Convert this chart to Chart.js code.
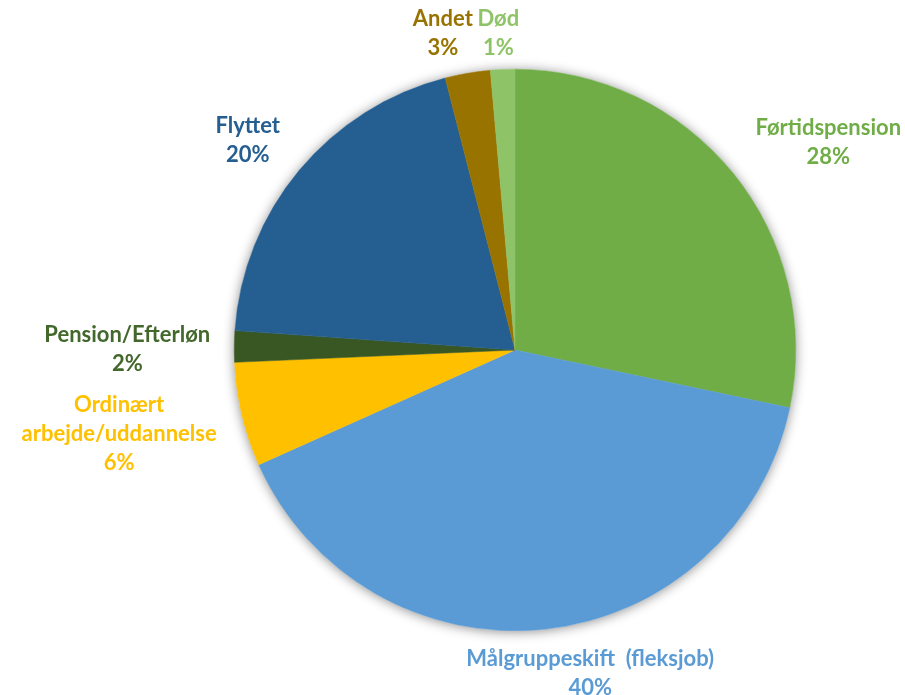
<!DOCTYPE html>
<html>
<head>
<meta charset="utf-8">
<script src="https://cdn.jsdelivr.net/npm/chart.js@4"></script>
<style>
html,body{margin:0;padding:0;background:#fff;}
#wrap{width:905px;height:695px;position:relative;}
</style>
</head>
<body>
<div id="wrap"><canvas id="c" width="905" height="695"></canvas></div>
<script>
const categories = ["Førtidspension", "Målgruppeskift  (fleksjob)", "Ordinært arbejde/uddannelse", "Pension/Efterløn", "Flyttet", "Andet", "Død"];
const labelLines = [["Førtidspension"], ["Målgruppeskift  (fleksjob)"], ["Ordinært", "arbejde/uddannelse"], ["Pension/Efterløn"], ["Flyttet"], ["Andet"], ["Død"]];
const shares = [28.3, 40.0, 6.0, 1.8, 19.9, 2.6, 1.4];
const percentLabels = ["28%", "40%", "6%", "2%", "20%", "3%", "1%"];
const sliceColors = ["#70AD47", "#5B9BD5", "#FFC000", "#385723", "#255E91", "#997300", "#8FC368"];
const labelColors = ["#70AD47", "#5B9BD5", "#FFC000", "#43682B", "#255E91", "#997300", "#8FC368"];
const labelNudges = [[31,-6],[31,5],[-18,7],[-14,3],[-19,-5],[-18,-1],[-3,3]];

const FONT = "bold 22px Lato";
const LINE_H = 29;

const shadowPlugin = {
  id: 'pieShadow',
  beforeDatasetsDraw(chart) {
    const arc = chart.getDatasetMeta(0).data[0];
    if (!arc) return;
    const ctx = chart.ctx;
    ctx.save();
    ctx.beginPath();
    ctx.arc(arc.x, arc.y, arc.outerRadius, 0, Math.PI * 2);
    ctx.fillStyle = '#fff';
    ctx.shadowColor = 'rgba(0,0,0,0.45)';
    ctx.shadowBlur = 12;
    ctx.shadowOffsetX = 0;
    ctx.shadowOffsetY = 1;
    ctx.fill();
    ctx.restore();
  }
};

const labelPlugin = {
  id: 'outLabels',
  afterDatasetsDraw(chart) {
    const ctx = chart.ctx;
    const meta = chart.getDatasetMeta(0);
    ctx.save();
    ctx.font = FONT;
    ctx.textAlign = 'center';
    ctx.textBaseline = 'middle';
    meta.data.forEach((arc, i) => {
      const mid = (arc.startAngle + arc.endAngle) / 2;
      const dx = Math.cos(mid), dy = Math.sin(mid);
      const lines = labelLines[i].concat([percentLabels[i]]);
      let w = 0;
      lines.forEach(l => { w = Math.max(w, ctx.measureText(l).width); });
      const h = lines.length * LINE_H;
      const r = arc.outerRadius + 10;
      const cx = arc.x + dx * r + dx * w / 2 + labelNudges[i][0];
      const cy = arc.y + dy * r + dy * h / 2 + labelNudges[i][1];
      ctx.fillStyle = labelColors[i];
      lines.forEach((l, k) => {
        ctx.fillText(l, cx, cy - h / 2 + LINE_H / 2 + k * LINE_H);
      });
    });
    ctx.restore();
  }
};

new Chart(document.getElementById('c'), {
  type: 'pie',
  data: {
    labels: categories,
    datasets: [{
      data: shares,
      backgroundColor: sliceColors,
      borderColor: sliceColors,
      borderWidth: 0.5
    }]
  },
  options: {
    responsive: false,
    animation: false,
    layout: { padding: { top: 69, bottom: 64, left: 234, right: 109 } },
    plugins: { legend: { display: false }, tooltip: { enabled: false } }
  },
  plugins: [shadowPlugin, labelPlugin]
});
</script>
</body>
</html>
